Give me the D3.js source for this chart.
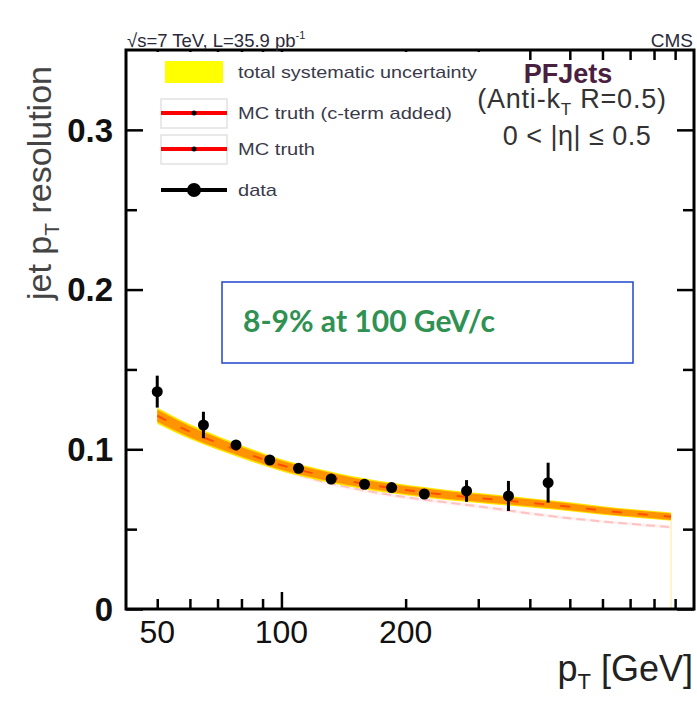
<!DOCTYPE html>
<html>
<head>
<meta charset="utf-8">
<script src="https://cdn.jsdelivr.net/npm/d3@7"></script>
<style>
  body { margin: 0; background: #fff; }
  svg { display: block; font-family: "Liberation Sans", Arial, sans-serif; }
</style>
</head>
<body>
<script>
const w = 697;
const h = 701;

// curves, sampled at these pT values [GeV]
const curvePt = [50, 60, 70, 80, 100, 125, 150, 200, 250, 300, 400, 500, 600, 700, 880];
const mcCterm = [0.121, 0.111, 0.104, 0.0985, 0.090, 0.0838, 0.0795, 0.0745, 0.0715, 0.0695, 0.0665, 0.064, 0.0617, 0.060, 0.0578];
const mcTruth = [0.1195, 0.1095, 0.1025, 0.0965, 0.0875, 0.080, 0.0755, 0.070, 0.0668, 0.0643, 0.0598, 0.0568, 0.0548, 0.0533, 0.0513];
const sysErr  = [0.0050, 0.0046, 0.0043, 0.0041, 0.0038, 0.0036, 0.0034, 0.0033, 0.0032, 0.0031, 0.0029, 0.0028, 0.0027, 0.0026, 0.0026];
const mcErr   = [0.0037, 0.0034, 0.0032, 0.0030, 0.0028, 0.0027, 0.0025, 0.0025, 0.0024, 0.0023, 0.0022, 0.0021, 0.0020, 0.0020, 0.0020];

// data points
const dataPt  = [50, 64.7, 77.6, 93.7, 110, 132, 159, 185, 222, 281, 355, 443];
const dataRes = [0.1361, 0.1152, 0.1027, 0.0933, 0.0881, 0.0814, 0.0781, 0.0760, 0.0720, 0.0739, 0.0708, 0.0791];
const dataErr = [0.0100, 0.0083, 0.0030, 0.0025, 0.0025, 0.0025, 0.0025, 0.0025, 0.0030, 0.0068, 0.0094, 0.0125];

// ticks
const xLabelTicks = [50, 100, 200];
const xMinorTicks = [50, 60, 70, 80, 90, 200, 300, 400, 500, 600, 700, 800, 900];
const xMajorTicks = [100];
const yMajorTicks = [0, 0.1, 0.2, 0.3];
const yMinorTicks = [0.05, 0.15, 0.25];
const yLabels = ["0", "0.1", "0.2", "0.3"];

const legendVals = ["total systematic uncertainty", "MC truth (c-term added)", "MC truth", "data"];
const legendLen = [239, 214, 77, 39];

const pLeft = 126, pRight = 694, pTop = 50, pBottom = 609;

const xScale = d3.scaleLog().domain([42, 1000]).range([pLeft, pRight]);
const yScale = d3.scaleLinear().domain([0, 0.35]).range([pBottom, pTop]);

const svg = d3.select("body").append("svg")
  .attr("width", w)
  .attr("height", h);

const curve = curvePt.map((p, i) => ({p: p, c: mcCterm[i], t: mcTruth[i], s: sysErr[i], m: mcErr[i]}));

// MC truth (no c-term) band + line
svg.append("path")
  .datum(curve)
  .attr("fill", "#ffd6d6")
  .attr("opacity", 0.35)
  .attr("d", d3.area().curve(d3.curveMonotoneX)
    .x(d => xScale(d.p)).y0(d => yScale(d.t - d.m * 0.5)).y1(d => yScale(d.t + d.m * 0.5)));
svg.append("path")
  .datum(curve)
  .attr("fill", "none")
  .attr("stroke", "#ff6a6a")
  .attr("stroke-width", 2)
  .attr("stroke-dasharray", "9,5")
  .attr("opacity", 0.35)
  .attr("d", d3.line().curve(d3.curveMonotoneX).x(d => xScale(d.p)).y(d => yScale(d.t)));

// total systematic band
svg.append("path")
  .datum(curve)
  .attr("fill", "#ffe600")
  .attr("d", d3.area().curve(d3.curveMonotoneX)
    .x(d => xScale(d.p)).y0(d => yScale(d.c - d.s)).y1(d => yScale(d.c + d.s)));

// MC truth (c-term added) band + line
svg.append("path")
  .datum(curve)
  .attr("fill", "#ff9400")
  .attr("d", d3.area().curve(d3.curveMonotoneX)
    .x(d => xScale(d.p)).y0(d => yScale(d.c - d.m)).y1(d => yScale(d.c + d.m)));
svg.append("path")
  .datum(curve)
  .attr("fill", "none")
  .attr("stroke", "#ff2000")
  .attr("stroke-width", 2)
  .attr("stroke-dasharray", "10,16")
  .attr("opacity", 0.6)
  .attr("d", d3.line().curve(d3.curveMonotoneX).x(d => xScale(d.p)).y(d => yScale(d.c)));

// faint band edge at the end
const last = curve[curve.length - 1];
svg.append("line")
  .attr("x1", xScale(last.p)).attr("x2", xScale(last.p))
  .attr("y1", yScale(last.c - last.s)).attr("y2", yScale(0))
  .attr("stroke", "#fff0b8").attr("stroke-width", 1.5);

// data points
svg.selectAll(".err")
  .data(dataPt)
  .enter()
  .append("line")
  .attr("class", "err")
  .attr("x1", d => xScale(d)).attr("x2", d => xScale(d))
  .attr("y1", (d, i) => yScale(dataRes[i] - dataErr[i]))
  .attr("y2", (d, i) => yScale(dataRes[i] + dataErr[i]))
  .attr("stroke", "#000").attr("stroke-width", 3);

svg.selectAll(".dot")
  .data(dataPt)
  .enter()
  .append("circle")
  .attr("class", "dot")
  .attr("cx", d => xScale(d))
  .attr("cy", (d, i) => yScale(dataRes[i]))
  .attr("r", 5.5)
  .attr("fill", "#000");

// axes, ticks drawn inward
function tickAxis(axis, scale, vals, len, tr) {
  svg.append("g")
    .attr("transform", tr)
    .call(axis(scale).tickValues(vals).tickSize(-len).tickFormat(""))
    .call(g => g.select(".domain").remove())
    .call(g => g.selectAll("line").attr("stroke", "#000").attr("stroke-width", 2.5));
}
tickAxis(d3.axisBottom, xScale, xMinorTicks, 10, "translate(0," + pBottom + ")");
tickAxis(d3.axisBottom, xScale, xMajorTicks, 17, "translate(0," + pBottom + ")");
tickAxis(d3.axisTop, xScale, xMinorTicks, 10, "translate(0," + pTop + ")");
tickAxis(d3.axisTop, xScale, xMajorTicks, 17, "translate(0," + pTop + ")");
tickAxis(d3.axisLeft, yScale, yMajorTicks, 17, "translate(" + pLeft + ",0)");
tickAxis(d3.axisLeft, yScale, yMinorTicks, 11, "translate(" + pLeft + ",0)");
tickAxis(d3.axisRight, yScale, yMajorTicks, 17, "translate(" + pRight + ",0)");
tickAxis(d3.axisRight, yScale, yMinorTicks, 11, "translate(" + pRight + ",0)");

// tick labels
svg.selectAll(".xlab")
  .data(xLabelTicks)
  .enter()
  .append("text")
  .attr("x", d => xScale(d))
  .attr("y", 643)
  .attr("text-anchor", "middle")
  .style("font-size", "32px")
  .attr("fill", "#111")
  .text(d => d);

svg.selectAll(".ylab")
  .data(yMajorTicks)
  .enter()
  .append("text")
  .attr("x", 113)
  .attr("y", d => yScale(d))
  .attr("dy", "0.36em")
  .attr("text-anchor", "end")
  .style("font-size", "33px")
  .style("font-weight", "bold")
  .attr("fill", "#111")
  .text((d, i) => yLabels[i]);

// legend (white box hides the top ticks behind it)
svg.append("rect")
  .attr("x", 146).attr("y", pTop + 2).attr("width", 358).attr("height", 152)
  .attr("fill", "#fff");

const legendY = [72, 113, 149, 190];
svg.append("rect")
  .attr("x", 165).attr("y", 61).attr("width", 58).attr("height", 22)
  .attr("fill", "#ffff00");
[1, 2].forEach(i => {
  svg.append("rect")
    .attr("x", 161).attr("y", legendY[i] - 14).attr("width", 66).attr("height", 29)
    .attr("fill", "none").attr("stroke", "#e2e2e2").attr("stroke-width", 1.5);
  svg.append("line")
    .attr("x1", 161).attr("x2", 227).attr("y1", legendY[i]).attr("y2", legendY[i])
    .attr("stroke", "#ff0000").attr("stroke-width", 4);
  svg.append("circle")
    .attr("cx", 194).attr("cy", legendY[i]).attr("r", 2.5).attr("fill", "#000");
});
svg.append("line")
  .attr("x1", 161).attr("x2", 227).attr("y1", legendY[3]).attr("y2", legendY[3])
  .attr("stroke", "#000").attr("stroke-width", 4);
svg.append("circle")
  .attr("cx", 194).attr("cy", legendY[3]).attr("r", 7).attr("fill", "#000");

svg.selectAll(".legtext")
  .data(legendVals)
  .enter()
  .append("text")
  .attr("x", 238)
  .attr("y", (d, i) => legendY[i] + 6)
  .attr("textLength", (d, i) => legendLen[i])
  .attr("lengthAdjust", "spacingAndGlyphs")
  .style("font-size", "17px")
  .attr("fill", "#3a3a4a")
  .text(d => d);

// frame
svg.append("rect")
  .attr("x", pLeft).attr("y", pTop)
  .attr("width", pRight - pLeft).attr("height", pBottom - pTop)
  .attr("fill", "none").attr("stroke", "#000").attr("stroke-width", 3);

// header
const head = svg.append("text")
  .attr("x", 127).attr("y", 47)
  .style("font-size", "18.5px")
  .attr("fill", "#2a2a3a");
head.append("tspan").text("\u221As=7 TeV, L=35.9 pb");
head.append("tspan").attr("dy", -8).style("font-size", "11px").text("-1");
svg.append("text")
  .attr("x", 693).attr("y", 47)
  .attr("text-anchor", "end")
  .style("font-size", "19px")
  .attr("fill", "#2a2a3a")
  .text("CMS");

// jet algo text
svg.append("text")
  .attr("x", 568).attr("y", 83)
  .attr("text-anchor", "middle")
  .style("font-size", "27px")
  .style("font-weight", "bold")
  .attr("fill", "#4a2040")
  .text("PFJets");
const algo = svg.append("text")
  .attr("x", 572).attr("y", 108)
  .attr("text-anchor", "middle")
  .style("font-size", "27px")
  .style("letter-spacing", "0.8px")
  .attr("fill", "#333");
algo.append("tspan").text("(Anti-k");
algo.append("tspan").attr("dy", 7).style("font-size", "17px").text("T");
algo.append("tspan").attr("dy", -7).text(" R=0.5)");
svg.append("text")
  .attr("x", 577).attr("y", 145)
  .attr("text-anchor", "middle")
  .style("font-size", "27px")
  .style("letter-spacing", "0.5px")
  .attr("fill", "#333")
  .text("0 < |\u03B7| \u2264 0.5");

// axis titles
const xt = svg.append("text")
  .attr("x", 693).attr("y", 681)
  .attr("text-anchor", "end")
  .style("font-size", "36px")
  .attr("fill", "#222");
xt.append("tspan").text("p");
xt.append("tspan").attr("dy", 8).style("font-size", "22px").text("T");
xt.append("tspan").attr("dy", -8).text(" [GeV]");

const yt = svg.append("text")
  .attr("transform", "translate(51,300) rotate(-90)")
  .style("font-size", "34px")
  .attr("fill", "#444");
yt.append("tspan").text("jet p");
yt.append("tspan").attr("dy", 8).style("font-size", "21px").text("T");
yt.append("tspan").attr("dy", -8).text(" resolution");

// annotation box
svg.append("rect")
  .attr("x", 222).attr("y", 282).attr("width", 411).attr("height", 81)
  .attr("fill", "none").attr("stroke", "#1f44d0").attr("stroke-width", 1.5);
svg.append("text")
  .attr("x", 243).attr("y", 332)
  .style("font-family", "Lato, 'Open Sans', sans-serif")
  .style("font-size", "30px")
  .style("font-weight", "bold")
  .attr("fill", "#2f9152")
  .text("8-9% at 100 GeV/c");
</script>
</body>
</html>
